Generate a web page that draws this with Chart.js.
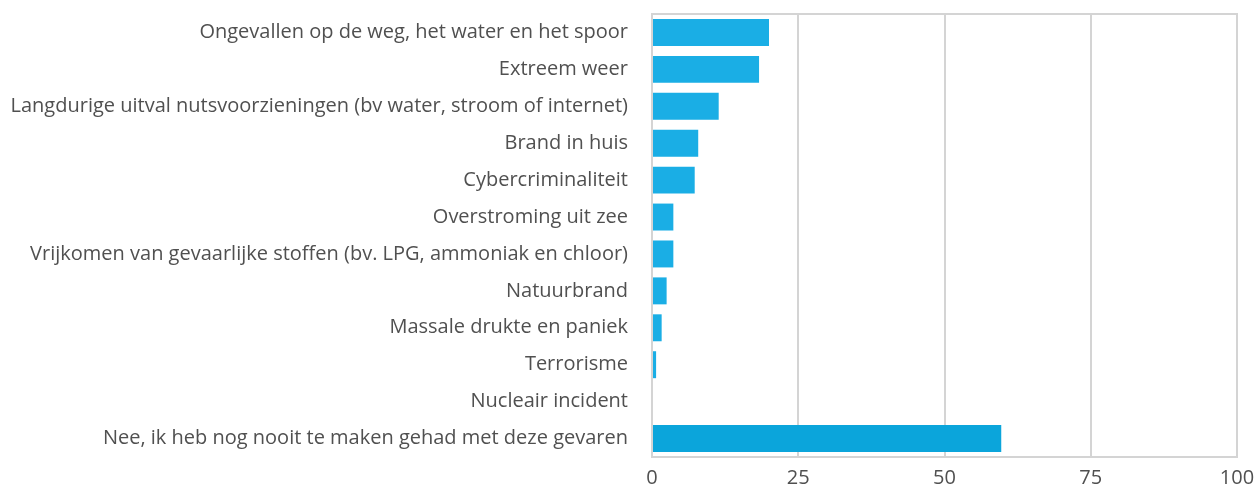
<!DOCTYPE html>
<html>
<head>
<meta charset="utf-8">
<script src="https://cdn.jsdelivr.net/npm/chart.js@4"></script>
<style>
  html, body { margin: 0; padding: 0; background: #fff; }
  #wrap { width: 1256px; height: 484px; }
</style>
</head>
<body>
<div id="wrap"><canvas id="myChart"></canvas></div>
<script>
// categories (top to bottom)
var categories = [
    'Ongevallen op de weg, het water en het spoor',
    'Extreem weer',
    'Langdurige uitval nutsvoorzieningen (bv water, stroom of internet)',
    'Brand in huis',
    'Cybercriminaliteit',
    'Overstroming uit zee',
    'Vrijkomen van gevaarlijke stoffen (bv. LPG, ammoniak en chloor)',
    'Natuurbrand',
    'Massale drukte en paniek',
    'Terrorisme',
    'Nucleair incident',
    'Nee, ik heb nog nooit te maken gehad met deze gevaren'
];

// percentages
var values = [20.0, 18.3, 11.4, 7.9, 7.3, 3.65, 3.65, 2.5, 1.65, 0.7, 0, 59.7];

var xTicks = [0, 25, 50, 75, 100];

var barColors = values.map(function (v, i) {
    return i == values.length - 1 ? '#0ba5db' : '#1aaee5';
});

// box around the plot area
var frame = {
    id: 'frame',
    afterDraw: function (chart) {
        var a = chart.chartArea;
        var c = chart.ctx;
        c.save();
        c.strokeStyle = '#d4d4d4';
        c.lineWidth = 2;
        c.beginPath();
        c.moveTo(a.left, a.top);
        c.lineTo(a.right, a.top);
        c.lineTo(a.right, a.bottom);
        c.lineTo(a.left, a.bottom);
        c.closePath();
        c.stroke();
        c.restore();
    }
};

Chart.defaults.font.family = '"Open Sans", sans-serif';
Chart.defaults.color = '#505050';

var ctx = document.getElementById('myChart').getContext('2d');
var chart = new Chart(ctx, {
    type: 'bar',
    data: {
        labels: categories,
        datasets: [{
            data: values,
            backgroundColor: barColors,
            categoryPercentage: 1,
            barPercentage: 0.73
        }]
    },
    options: {
        indexAxis: 'y',
        responsive: true,
        maintainAspectRatio: false,
        animation: false,
        layout: { autoPadding: false, padding: { top: 14, right: 19, left: 0, bottom: 0 } },
        plugins: {
            legend: { display: false },
            tooltip: { enabled: false }
        },
        scales: {
            x: {
                min: 0,
                max: 100,
                afterBuildTicks: function (axis) {
                    axis.ticks = xTicks.map(function (v) { return { value: v }; });
                },
                grid: { color: '#d4d4d4', lineWidth: 2, drawTicks: false },
                border: { display: false },
                ticks: { padding: 9, font: { size: 20 }, color: '#505050' },
                afterFit: function (axis) {
                    axis.height = 27;
                    axis.paddingLeft = 0;
                    axis.paddingRight = 0;
                }
            },
            y: {
                grid: { display: false, drawTicks: false },
                border: { display: false },
                ticks: { padding: 24, font: { size: 20 }, color: '#505050' },
                afterFit: function (axis) {
                    axis.width = 652;
                    axis.paddingTop = 0;
                    axis.paddingBottom = 0;
                }
            }
        }
    },
    plugins: [frame]
});
</script>
</body>
</html>
